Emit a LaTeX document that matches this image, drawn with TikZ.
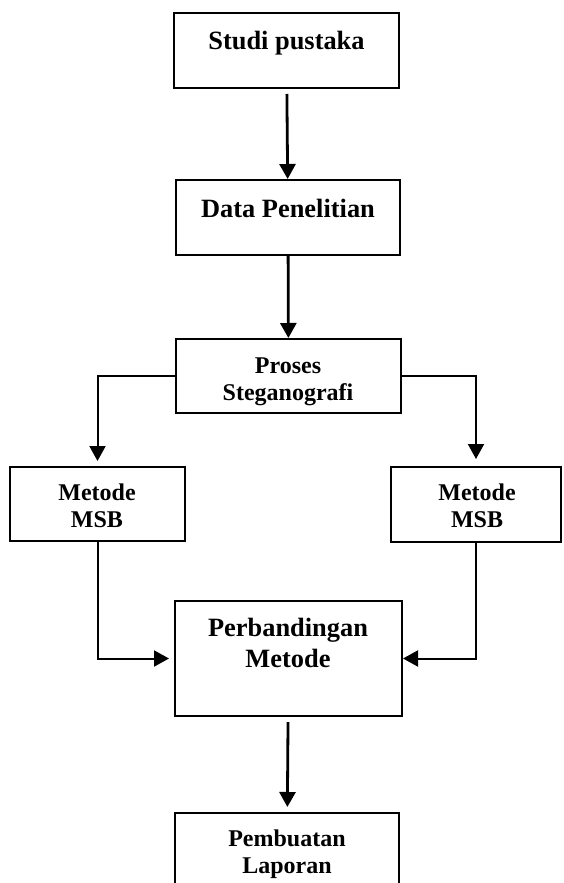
\documentclass[tikz,border=0pt]{standalone}
\usepackage{fontspec}
\setmainfont{Liberation Serif}
\usepackage{tikz}
\usetikzlibrary{arrows.meta}
\usetikzlibrary{fit}

\begin{document}
\begin{tikzpicture}[x=0.5pt, y=-0.5pt, >={Triangle[length=7.5pt,width=8pt]},
	kotak/.style={draw, line width=1pt, inner sep=0pt},
	besar/.style={font=\bfseries\fontsize{13.2}{15.5}\selectfont, align=center, anchor=base},
	kecil/.style={font=\bfseries\fontsize{12}{13.5}\selectfont, align=center, anchor=base},
	panah/.style={->, line width=1.4pt},
	siku/.style={->, line width=1pt},
]

% Rahmen
\clip (0,0) rectangle (563,883);

% Kotak
\node[kotak, fit={(174,13) (399,88)}] (studi) {};
\node[kotak, fit={(176,180) (400,255)}] (data) {};
\node[kotak, fit={(176,339) (401,413)}] (proses) {};
\node[kotak, fit={(10,467) (185,541)}] (msbL) {};
\node[kotak, fit={(391,467) (561,542)}] (msbR) {};
\node[kotak, fit={(175,601) (402,716)}] (banding) {};
\node[kotak, fit={(175,813) (399,900)}] (laporan) {};

% Teks (base = baris terakhir)
\node[besar] (studiT) at (286.5,50) {Studi pustaka};
\node[besar] (dataT) at (288,217) {Data Penelitian};
\node[kecil] (prosesT) at (288,400) {Proses\\Steganografi};
\node[kecil] (msbLT) at (97,527) {Metode\\MSB};
\node[kecil] (msbRT) at (477,527) {Metode\\MSB};
\node[besar] (bandingT) at (288,667) {Perbandingan\\Metode};
\node[kecil] (laporanT) at (287,873) {Pembuatan\\Laporan};

% Panah
\draw[panah, shorten <=2.5pt] (studi) -- (data);
\draw[panah] (data) -- (proses);
\draw[siku, shorten >=2.5pt] (proses.west) -| (msbL.north);
\draw[siku, shorten >=3.5pt] (proses.east) -| (msbR.north);
\draw[siku, shorten >=2.5pt] (msbL.south) |- (banding.west);
\draw[siku] (msbR.south) |- (banding.east);
\draw[panah, shorten <=2.5pt, shorten >=2.5pt] (banding) -- (laporan);

\end{tikzpicture}
\end{document}
